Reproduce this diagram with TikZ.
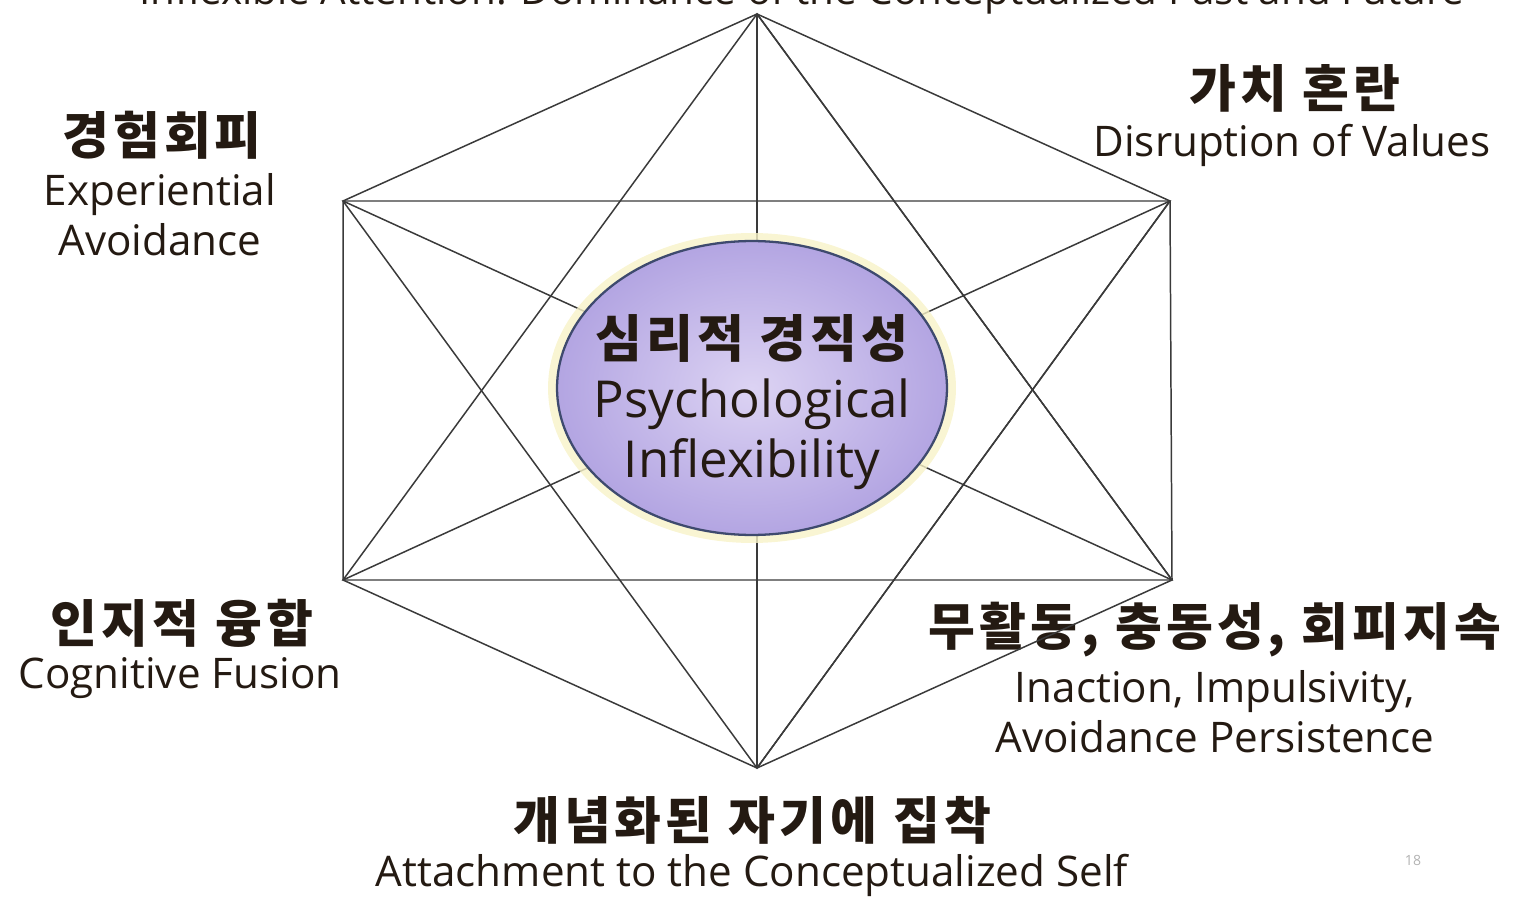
\documentclass[tikz,border=0pt]{standalone}
\usepackage{fontspec}
\setmainfont{Open Sans}
\newfontfamily\kr{Noto Sans CJK KR}[LetterSpace=8]
\usetikzlibrary{shapes.geometric}

\definecolor{ink}{HTML}{241A12}
\definecolor{edgegray}{HTML}{3A3A3A}
\definecolor{lavin}{HTML}{DCD3F3}
\definecolor{lavout}{HTML}{B3A5E2}
\definecolor{rimblue}{HTML}{3E4A6E}
\definecolor{glow}{HTML}{F7F2C8}

\begin{document}
\begin{tikzpicture}[x=0.02cm, y=-0.02cm,
    kor/.style={font=\kr\bfseries\fontsize{29}{33}\selectfont, text=ink},
    eng/.style={font=\fontsize{24}{28.5}\selectfont, text=ink, align=center},
    edge/.style={draw=edgegray, line width=0.85pt},
    core/.style={ellipse, draw=rimblue, line width=1.3pt, inner color=lavin, outer color=lavout,
        minimum width=7.8cm, minimum height=5.88cm, inner sep=0pt}
]
\useasboundingbox (0,0) rectangle (1515,898);
\clip (0,0) rectangle (1515,898);

% Corners of the hexagon
\coordinate (T) at (757,14);
\coordinate (UL) at (343,201);
\coordinate (UR) at (1170,201);
\coordinate (LL) at (343,580);
\coordinate (LR) at (1172,580);
\coordinate (B) at (757,768);

% Labels
\node[eng, anchor=base, font=\fontsize{23}{28}\selectfont] (attn) at (802,5) {Inflexible Attention: Dominance of the Conceptualized Past and Future};
\node[kor] (avoidK) at (162,135) {경험회피};
\node[eng] (avoidE) at (160,215) {Experiential\\Avoidance};
\node[kor] (valueK) at (1295,88) {가치 혼란};
\node[eng] (valueE) at (1292,145) {Disruption of Values};
\node[kor] (fusionK) at (182,623) {인지적 융합};
\node[eng] (fusionE) at (180,678) {Cognitive Fusion};
\node[kor] (actK) at (1215,630) {무활동, 충동성, 회피지속};
\node[eng] (actE) at (1215,712) {Inaction, Impulsivity,\\Avoidance Persistence};
\node[kor] (selfK) at (752,820) {개념화된 자기에 집착};
\node[eng] (selfE) at (752,875) {Attachment to the Conceptualized Self};
\node[font=\fontsize{8}{10}\selectfont, text=gray!60] (page) at (1413,860) {18};

% Hexagon and all diagonals
\draw[edge] (T) -- (UR) -- (LR) -- (B) -- (LL) -- (UL) -- cycle;
\draw[edge] (T) -- (LL) -- (LR) -- cycle;
\draw[edge] (B) -- (UL) -- (UR) -- cycle;
\draw[edge] (T) -- (B);
\draw[edge] (UL) -- (LR);
\draw[edge] (UR) -- (LL);
\draw[edge] (T) -- (LR);
\draw[edge] (B) -- (UR);

% Centre
\fill[glow, opacity=0.8] (752,388) ellipse [x radius=4.08cm, y radius=3.1cm];
\node[core] (psy) at (752,388) {};
\node[eng, font=\fontsize{29}{34}\selectfont] (psyText) at (752,402)
    {{\kr\bfseries 심리적 경직성}\\Psychological\\Inflexibility};
\end{tikzpicture}
\end{document}
